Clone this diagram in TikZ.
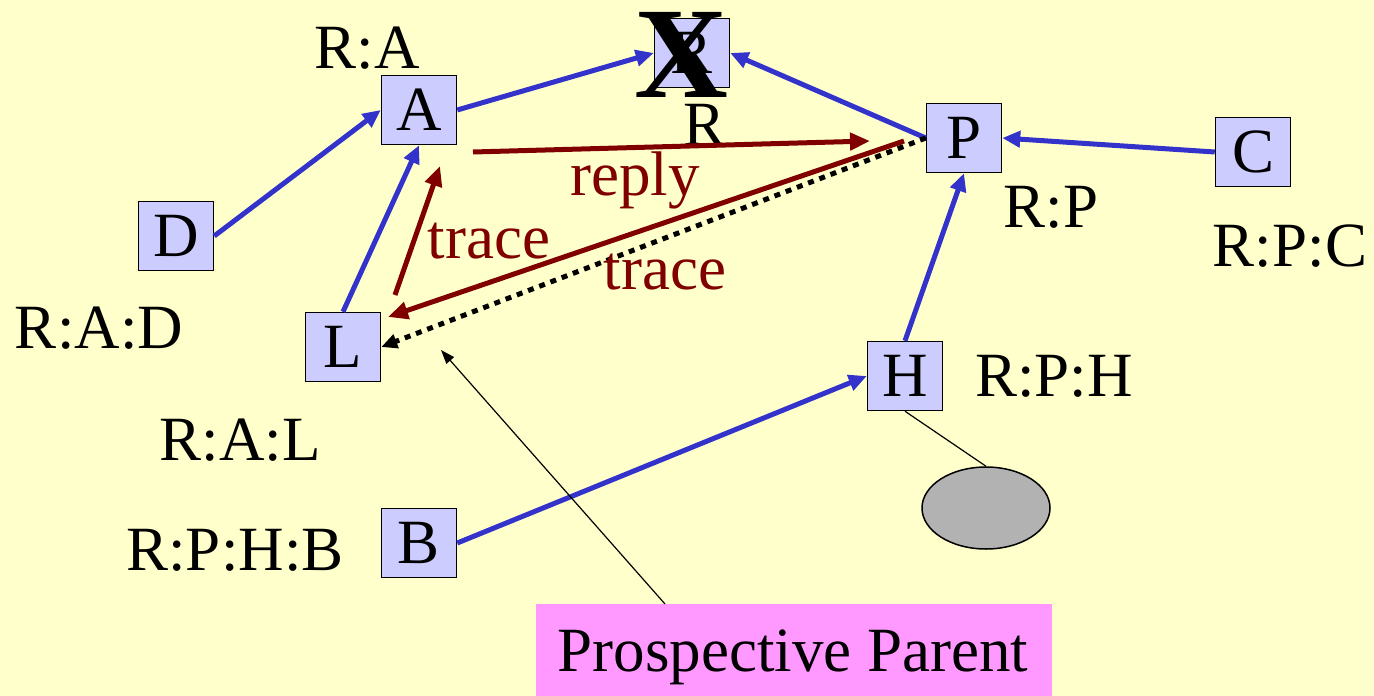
\documentclass[tikz,border=0pt]{standalone}
\usepackage{fontspec}
\setmainfont{Liberation Serif}
\usetikzlibrary{arrows.meta,shapes.geometric}
\definecolor{bg}{HTML}{FFFFCC}
\definecolor{boxfill}{HTML}{CCCCFF}
\definecolor{blu}{HTML}{3333CC}
\definecolor{dred}{HTML}{800000}
\definecolor{pink}{HTML}{FF99FF}
\tikzset{
  box/.style={draw=black, line width=1.5pt, fill=boxfill, minimum width=75pt, minimum height=69pt, inner sep=0pt, font=\fontsize{63}{63}\selectfont},
  lbl/.style={inner sep=0pt, font=\fontsize{63}{63}\selectfont},
  blink/.style={draw=blu, line width=5pt, -{Triangle[length=18pt,width=16pt]}},
  rlink/.style={draw=dred, line width=5pt, -{Triangle[length=20pt,width=17pt]}},
}
\begin{document}
\begin{tikzpicture}[x=1pt,y=-1pt]
\fill[bg] (0,0) rectangle (1374,696);
\useasboundingbox (0,0) rectangle (1374,696);
% boxes
\node[box] (Rb) at (692,53) {R};
\node[inner sep=0pt, font=\fontsize{130}{130}\selectfont\bfseries] (X) at (681,55) {X};
\node[box] (A) at (419,110) {A};
\node[box] (D) at (176,236) {D};
\node[box] (L) at (343,347) {L};
\node[box] (B) at (419,543) {B};
\node[box] (P) at (964,138) {P};
\node[box] (C) at (1253,152) {C};
\node[box] (H) at (905,376) {H};
\node[draw=black, line width=1.5pt, fill=black!30, ellipse, minimum width=128pt, minimum height=82pt] (E) at (986,508) {};
\node[fill=pink, minimum width=516pt, minimum height=94pt, inner sep=0pt, anchor=north west] (PP) at (536,604) {};
\node[lbl] (PPt) at (793,657) {Prospective Parent};
% labels
\node[lbl] (lRA) at (367,48) {R:A};
\node[lbl] (lR) at (705,125) {R};
\node[lbl] (lRAD) at (99,328) {R:A:D};
\node[lbl] (lRAL) at (240,440) {R:A:L};
\node[lbl] (lRPHB) at (235,550) {R:P:H:B};
\node[lbl] (lRP) at (1051,207) {R:P};
\node[lbl] (lRPC) at (1290,246) {R:P:C};
\node[lbl] (lRPH) at (1054,376) {R:P:H};
% blue links
\draw[blink] (A.east) -- (Rb.west);
\draw[blink] (P.west) -- (Rb.east);
\draw[blink] (C.west) -- (P.east);
\draw[blink] (D.east) -- (A.west);
\draw[blink] (L.north) -- (A.south);
\draw[blink] (H.north) -- (P.south);
\draw[blink] (B.east) -- (H.west);
% ellipse link
\draw[line width=1.2pt] (H.south) -- (E.north);
% red arrows
\coordinate (rs) at (473,152);
\coordinate (re) at (870,141);
\coordinate (t1s) at (395,295);
\coordinate (t1e) at (440,166);
\coordinate (t2s) at (904,141);
\coordinate (t2e) at (388,317);
\draw[rlink] (rs) -- (re);
\draw[rlink] (t1s) -- (t1e);
\draw[rlink] (t2s) -- (t2e);
\draw[line width=5pt, dash pattern=on 6pt off 6pt, -{Triangle[length=16pt,width=14pt]}] (P.west) -- (L.east);
\node[lbl, text=dred] (reply) at (635,180) {reply};
\node[lbl, text=dred] (tr1) at (489,241) {trace};
\node[lbl, text=dred] (tr2) at (665,272) {trace};
% prospective parent pointer
\coordinate (pps) at (665,604);
\coordinate (ppe) at (441,350);
\draw[line width=1.2pt, -{Triangle[length=14pt,width=10pt]}] (pps) -- (ppe);
\end{tikzpicture}
\end{document}
